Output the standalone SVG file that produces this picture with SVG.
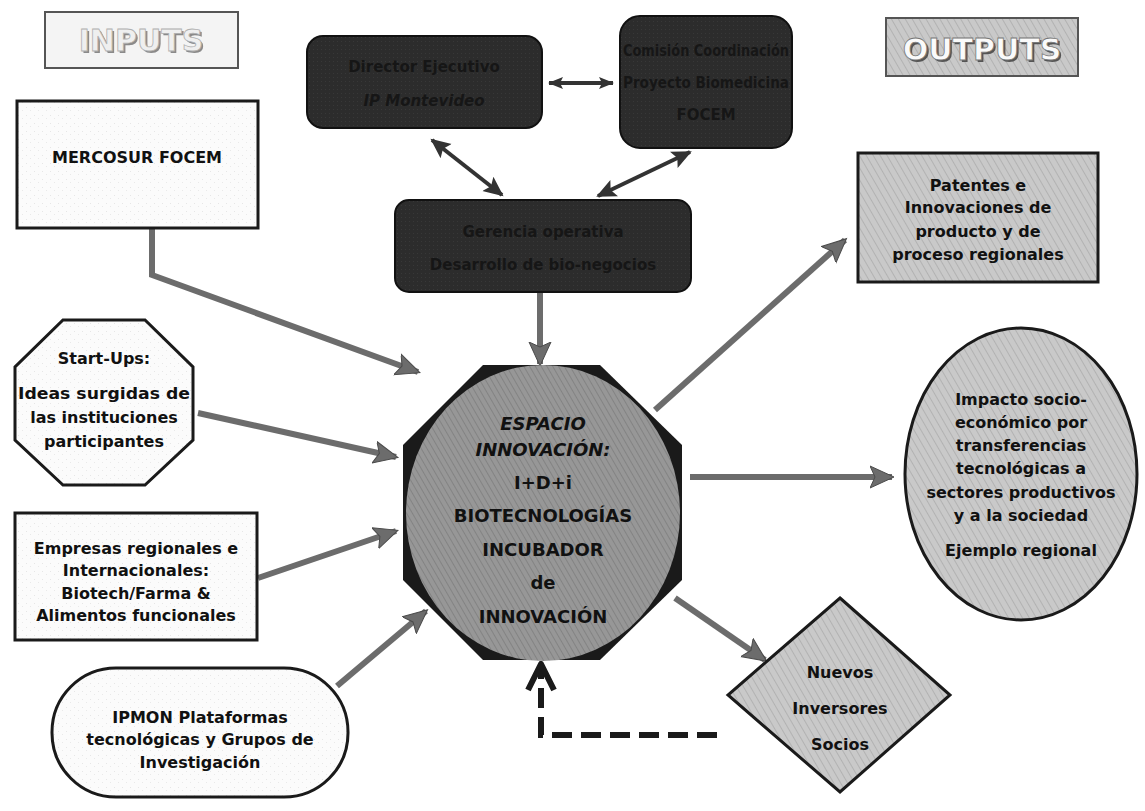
<svg xmlns="http://www.w3.org/2000/svg" width="1145" height="811" viewBox="0 0 1145 811">
  <style>
    .t { font-family: "DejaVu Sans", "Noto Sans", sans-serif; font-weight: bold; font-size: 16px; fill: #111; text-anchor: middle; }
    .big { font-size: 18px; }
    .it { font-style: italic; }
    .dark { fill: #161616; font-size: 15px; }
    .lightbox { fill: url(#paper); stroke: #1a1a1a; stroke-width: 3; }
    .graybox { fill: url(#hatch); stroke: #1a1a1a; stroke-width: 3; }
    .darkbox { fill: url(#darkTex); stroke: #111; stroke-width: 2; }
    .conn { fill: none; stroke: #6c6c6c; stroke-width: 6; }
    .dconn { fill: none; stroke: #333; stroke-width: 4; }
  </style>
  <defs>
    <pattern id="hatch" width="6" height="6" patternUnits="userSpaceOnUse" patternTransform="rotate(-30)">
      <rect width="6" height="6" fill="#c9c9c9"/>
      <line x1="0" y1="0" x2="0" y2="6" stroke="#b2b2b2" stroke-width="2"/>
    </pattern>
    <pattern id="hatchDark" width="5" height="5" patternUnits="userSpaceOnUse" patternTransform="rotate(-30)">
      <rect width="5" height="5" fill="#979797"/>
      <line x1="0" y1="0" x2="0" y2="5" stroke="#838383" stroke-width="2"/>
    </pattern>
    <pattern id="paper" width="8" height="8" patternUnits="userSpaceOnUse">
      <rect width="8" height="8" fill="#fbfbfb"/>
      <rect x="2" y="3" width="1" height="1" fill="#e6e6e6"/>
      <rect x="6" y="6" width="1" height="1" fill="#e9e9e9"/>
    </pattern>
    <pattern id="darkTex" width="4" height="4" patternUnits="userSpaceOnUse">
      <rect width="4" height="4" fill="#2c2c2c"/>
      <rect x="1" y="1" width="1" height="1" fill="#383838"/>
    </pattern>
    <marker id="ah" markerUnits="userSpaceOnUse" markerWidth="26" markerHeight="24" refX="22" refY="12" orient="auto">
      <path d="M0,1 L24,12 L0,23 L5,12 Z" fill="#6c6c6c" stroke="#4a4a4a" stroke-width="1"/>
    </marker>
    <marker id="dh" markerUnits="userSpaceOnUse" markerWidth="22" markerHeight="20" refX="18" refY="10" orient="auto-start-reverse">
      <path d="M0,1 L20,10 L0,19 L4,10 Z" fill="#333"/>
    </marker>
    <marker id="dhs" markerUnits="userSpaceOnUse" markerWidth="16" markerHeight="14" refX="14" refY="7" orient="auto-start-reverse">
      <path d="M0,1 L15,7 L0,13 L3,7 Z" fill="#333"/>
    </marker>
    <filter id="soft" x="-5%" y="-5%" width="110%" height="110%">
      <feGaussianBlur stdDeviation="0.6"/>
    </filter>
  </defs>

  <!-- section labels -->
  <g id="inputs-label">
    <rect x="45" y="12" width="193" height="56" fill="#f4f4f4" stroke="#555" stroke-width="2"/>
    <text x="143" y="53" class="t" style="font-size:30px;fill:#8a8a8a" filter="url(#soft)">INPUTS</text>
    <text x="141" y="51" class="t" style="font-size:30px;fill:#efefef;stroke:#b0b0b0;stroke-width:0.8">INPUTS</text>
  </g>
  <g id="outputs-label">
    <rect x="886" y="18" width="192" height="58" fill="url(#hatch)" stroke="#555" stroke-width="2"/>
    <text x="984" y="62" class="t" style="font-size:30px;fill:#555" filter="url(#soft)">OUTPUTS</text>
    <text x="982" y="60" class="t" style="font-size:30px;fill:#fafafa;stroke:#777;stroke-width:0.8">OUTPUTS</text>
  </g>

  <!-- connectors -->
  <g id="connectors">
    <path class="conn" d="M152,228 L152,275 L418,372" marker-end="url(#ah)"/>
    <path class="conn" d="M198,413 L396,457" marker-end="url(#ah)"/>
    <path class="conn" d="M258,578 L396,531" marker-end="url(#ah)"/>
    <path class="conn" d="M337,686 L426,611" marker-end="url(#ah)"/>
    <path class="conn" d="M540,293 L540,364" marker-end="url(#ah)"/>
    <path class="conn" d="M655,410 L845,240" marker-end="url(#ah)"/>
    <path class="conn" d="M690,477 L892,477" marker-end="url(#ah)"/>
    <path class="conn" d="M675,598 L765,660" marker-end="url(#ah)"/>
    <path d="M717,735 L541,735 L541,670" fill="none" stroke="#1a1a1a" stroke-width="6" stroke-dasharray="20,9"/>
    <path d="M528,690 L541,664 L554,690" fill="none" stroke="#1a1a1a" stroke-width="6" stroke-linejoin="round"/>
    <path class="dconn" d="M549,83 L613,83" marker-start="url(#dhs)" marker-end="url(#dhs)"/>
    <path class="dconn" d="M432,140 L502,195" marker-start="url(#dh)" marker-end="url(#dh)"/>
    <path class="dconn" d="M690,152 L598,196" marker-start="url(#dh)" marker-end="url(#dh)"/>
  </g>

  <!-- governance -->
  <g id="director">
    <rect class="darkbox" x="307" y="36" width="235" height="92" rx="16"/>
    <text class="t dark" x="424" y="72">Director Ejecutivo</text>
    <text class="t dark it" x="424" y="106">IP Montevideo</text>
  </g>
  <g id="comision">
    <rect class="darkbox" x="620" y="16" width="172" height="132" rx="20"/>
    <text class="t dark" x="706" y="56" textLength="166" lengthAdjust="spacingAndGlyphs">Comisión Coordinación</text>
    <text class="t dark" x="706" y="88" textLength="166" lengthAdjust="spacingAndGlyphs">Proyecto Biomedicina</text>
    <text class="t dark" x="706" y="120">FOCEM</text>
  </g>
  <g id="gerencia">
    <rect class="darkbox" x="395" y="200" width="296" height="92" rx="14"/>
    <text class="t dark" x="543" y="237">Gerencia operativa</text>
    <text class="t dark" x="543" y="270">Desarrollo de bio-negocios</text>
  </g>

  <!-- inputs -->
  <g id="mercosur">
    <rect class="lightbox" x="17" y="101" width="241" height="127"/>
    <text class="t" x="137" y="163">MERCOSUR FOCEM</text>
  </g>
  <g id="startups">
    <polygon class="lightbox" points="63,320 145,320 193,367 193,440 145,485 63,485 15,440 15,367"/>
    <text class="t" x="104" y="364">Start-Ups:</text>
    <text class="t" x="104" y="399" textLength="172" lengthAdjust="spacingAndGlyphs">Ideas surgidas de</text>
    <text class="t" x="104" y="423">las instituciones</text>
    <text class="t" x="104" y="447">participantes</text>
  </g>
  <g id="empresas">
    <rect class="lightbox" x="15" y="513" width="242" height="127"/>
    <text class="t" x="136" y="554">Empresas regionales e</text>
    <text class="t" x="136" y="576">Internacionales:</text>
    <text class="t" x="136" y="599">Biotech/Farma &amp;</text>
    <text class="t" x="136" y="621">Alimentos funcionales</text>
  </g>
  <g id="ipmon">
    <rect class="lightbox" x="52" y="668" width="296" height="129" rx="64"/>
    <text class="t" x="200" y="723">IPMON Plataformas</text>
    <text class="t" x="200" y="745">tecnológicas y Grupos de</text>
    <text class="t" x="200" y="768">Investigación</text>
  </g>

  <!-- core -->
  <g id="espacio">
    <polygon points="483,365 600,365 682,445 682,580 600,660 483,660 403,580 403,445" fill="#1a1a1a"/>
    <ellipse cx="543" cy="513" rx="137" ry="148" fill="url(#hatchDark)"/>
    <text class="t big it" x="543" y="430">ESPACIO</text>
    <text class="t big it" x="543" y="456">INNOVACIÓN:</text>
    <text class="t big" x="543" y="489">I+D+i</text>
    <text class="t big" x="543" y="522">BIOTECNOLOGÍAS</text>
    <text class="t big" x="543" y="556">INCUBADOR</text>
    <text class="t big" x="543" y="589">de</text>
    <text class="t big" x="543" y="623">INNOVACIÓN</text>
  </g>

  <!-- outputs -->
  <g id="patentes">
    <rect class="graybox" x="858" y="153" width="240" height="129"/>
    <text class="t" x="978" y="191">Patentes e</text>
    <text class="t" x="978" y="213">Innovaciones de</text>
    <text class="t" x="978" y="237">producto y de</text>
    <text class="t" x="978" y="260">proceso regionales</text>
  </g>
  <g id="impacto">
    <ellipse class="graybox" cx="1021" cy="474" rx="116" ry="146"/>
    <text class="t" x="1021" y="405">Impacto socio-</text>
    <text class="t" x="1021" y="428">económico por</text>
    <text class="t" x="1021" y="451">transferencias</text>
    <text class="t" x="1021" y="474">tecnológicas a</text>
    <text class="t" x="1021" y="498">sectores productivos</text>
    <text class="t" x="1021" y="521">y a la sociedad</text>
    <text class="t" x="1021" y="556">Ejemplo regional</text>
  </g>
  <g id="nuevos">
    <polygon class="graybox" points="840,598 950,695 840,792 728,695"/>
    <text class="t" x="840" y="678">Nuevos</text>
    <text class="t" x="840" y="714">Inversores</text>
    <text class="t" x="840" y="750">Socios</text>
  </g>
</svg>
